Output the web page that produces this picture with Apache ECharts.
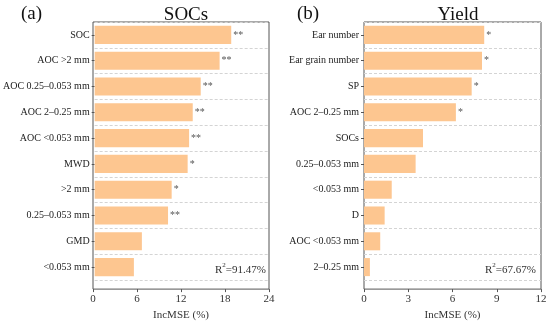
<!DOCTYPE html>
<html><head><meta charset="utf-8">
<script src="https://cdn.jsdelivr.net/npm/echarts@6/dist/echarts.min.js"></script>
<style>html,body{margin:0;padding:0;background:#fff}#c{width:550px;height:326px}</style>
</head><body><div id="c"></div>
<script>
const socCats = ['SOC','AOC >2 mm','AOC 0.25–0.053 mm','AOC 2–0.25 mm','AOC <0.053 mm','MWD','>2 mm','0.25–0.053 mm','GMD','<0.053 mm'];
const socVals = [18.8,17.2,14.6,13.5,13.0,12.8,10.6,10.1,6.5,5.4];
const socSig = ['**','**','**','**','**','*','*','**','',''];
const socTicks = [0,6,12,18,24];
const yieldCats = ['Ear number','Ear grain number','SP','AOC 2–0.25 mm','SOCs','0.25–0.053 mm','<0.053 mm','D','AOC <0.053 mm','2–0.25 mm'];
const yieldVals = [8.15,8.0,7.3,6.23,4.0,3.5,1.88,1.4,1.1,0.4];
const yieldSig = ['*','*','*','*','','','','','',''];
const yieldTicks = [0,3,6,9,12];
const r2 = ['91.47%','67.67%'];

const FONT = '"Liberation Serif","Times New Roman",serif';
const chart = echarts.init(document.getElementById('c'));
const panels = [
  {cats: socCats, vals: socVals, sig: socSig, ticks: socTicks, left: 93, right: 281},
  {cats: yieldCats, vals: yieldVals, sig: yieldSig, ticks: yieldTicks, left: 364, right: 9}
];
const grid = [], xAxis = [], yAxis = [], series = [];
panels.forEach((p, i) => {
  const min = p.ticks[0], max = p.ticks[p.ticks.length - 1], step = p.ticks[1] - p.ticks[0];
  grid.push({left: p.left, right: p.right, top: 22, bottom: 46});
  grid.push({left: p.left, right: p.right, top: 22, bottom: 34, show: true, borderColor: '#555', borderWidth: 1, backgroundColor: 'transparent'});
  const gA = i * 2, gB = i * 2 + 1;
  xAxis.push({type: 'value', gridIndex: gA, min, max, interval: step, show: false});
  xAxis.push({type: 'value', gridIndex: gB, min, max, interval: step,
    name: 'IncMSE (%)', nameLocation: 'middle', nameGap: 19,
    nameTextStyle: {fontFamily: FONT, fontSize: 11, color: '#333'},
    axisLine: {show: false}, splitLine: {show: false},
    axisTick: {show: true, length: 3, lineStyle: {color: '#555'}},
    axisLabel: {fontFamily: FONT, fontSize: 11, color: '#333', margin: 5}});
  yAxis.push({type: 'category', gridIndex: gA, inverse: true, data: p.cats,
    axisLine: {show: false},
    axisTick: {show: true, alignWithLabel: true, length: 3, lineStyle: {color: '#555'}},
    axisLabel: {fontFamily: FONT, fontSize: 10, color: '#222', margin: 5},
    splitLine: {show: true, lineStyle: {color: '#d4d4d4', type: [3, 2], width: 1}}});
  yAxis.push({type: 'value', gridIndex: gB, show: false});
  series.push({type: 'bar', xAxisIndex: gA, yAxisIndex: gA, data: p.vals,
    barCategoryGap: '30%',
    itemStyle: {color: '#FDC690'},
    label: {show: true, position: 'right', distance: 2, fontFamily: FONT, fontSize: 10, color: '#555',
      formatter: (d) => p.sig[d.dataIndex]}});
});

const title = [
  {text: '(a)', left: 16, top: 0, textStyle: {fontFamily: FONT, fontSize: 19, fontWeight: 'normal', color: '#111'}},
  {text: 'SOCs', left: 181, textAlign: 'center', top: 1, textStyle: {fontFamily: FONT, fontSize: 19, fontWeight: 'normal', color: '#111'}},
  {text: '(b)', left: 292, top: 0, textStyle: {fontFamily: FONT, fontSize: 19, fontWeight: 'normal', color: '#111'}},
  {text: 'Yield', left: 453, textAlign: 'center', top: 1, textStyle: {fontFamily: FONT, fontSize: 19, fontWeight: 'normal', color: '#111'}}
];
const r2Left = [210, 480];
r2.forEach((v, i) => {
  title.push({text: '{a|R}{s|2}{a|=' + v + '}', left: r2Left[i], top: 257,
    textStyle: {fontWeight: 'normal', rich: {
      a: {fontFamily: FONT, fontSize: 11, fontWeight: 'normal', color: '#333', verticalAlign: 'bottom', lineHeight: 14},
      s: {fontFamily: FONT, fontSize: 7, fontWeight: 'normal', color: '#333', verticalAlign: 'top', lineHeight: 14, padding: [0, 0, 6, 0]}
    }}});
});

chart.setOption({animation: false, title, grid, xAxis, yAxis, series});
</script></body></html>
